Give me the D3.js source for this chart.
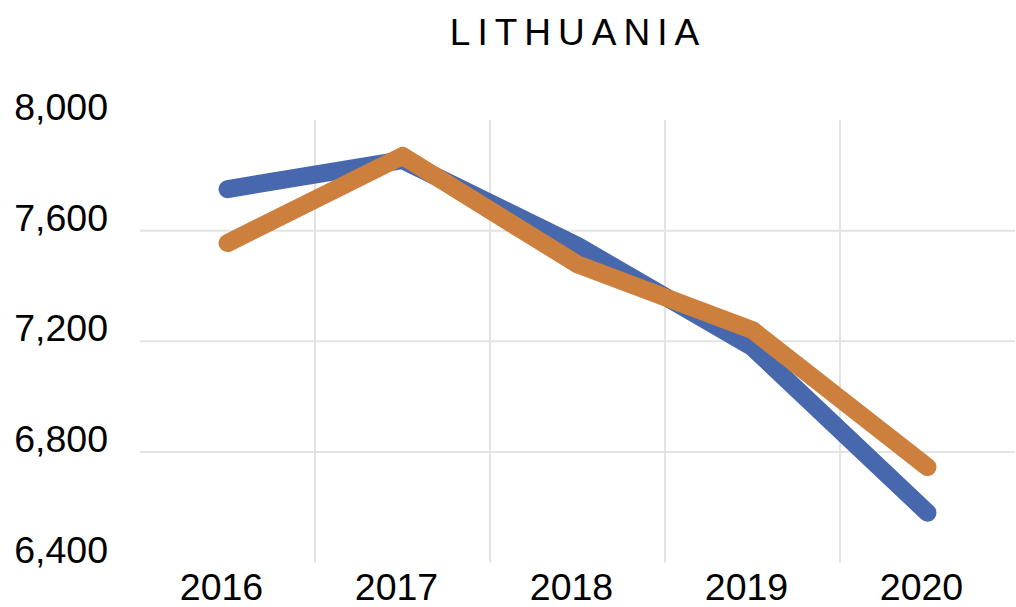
<!DOCTYPE html>
<html>
<head>
<meta charset="utf-8">
<script src="https://cdn.jsdelivr.net/npm/d3@7/dist/d3.min.js"></script>
<style>
  body { margin: 0; background: #fff; }
  text { font-family: "Liberation Sans", Arial, Helvetica, sans-serif; fill: #000; }
</style>
</head>
<body>
<div id="wrapper"></div>
<script>
const years = ["2016", "2017", "2018", "2019", "2020"]
const seriesBlue = [7750, 7855, 7545, 7178, 6580]
const seriesOrange = [7555, 7870, 7478, 7240, 6745]
const yTicks = [6400, 6800, 7200, 7600, 8000]
const title = "LITHUANIA"

const dimensions = {
    width: 1016,
    height: 607,
    margin: { top: 120, right: 1, bottom: 44.5, left: 140 },
}
dimensions.boundedWidth = dimensions.width - dimensions.margin.left - dimensions.margin.right
dimensions.boundedHeight = dimensions.height - dimensions.margin.top - dimensions.margin.bottom

const wrapper = d3.select("#wrapper")
    .append("svg")
    .attr("width", dimensions.width)
    .attr("height", dimensions.height)

const bounds = wrapper.append("g")
    .attr("transform", `translate(${dimensions.margin.left},${dimensions.margin.top})`)

const xScale = d3.scaleBand()
    .domain(years)
    .range([0, dimensions.boundedWidth])

const yScale = d3.scaleLinear()
    .domain([6400, 8000])
    .range([dimensions.boundedHeight, 0])

// horizontal grid (skip top and bottom)
bounds.append("g")
    .selectAll("line")
    .data(yTicks.filter(d => d > 6400 && d < 8000))
    .join("line")
    .attr("x1", 0)
    .attr("x2", dimensions.boundedWidth)
    .attr("y1", d => yScale(d))
    .attr("y2", d => yScale(d))
    .attr("stroke", "#e3e3e3")
    .attr("stroke-width", 2)

// vertical grid between categories
bounds.append("g")
    .selectAll("line")
    .data(years.slice(1))
    .join("line")
    .attr("x1", d => xScale(d))
    .attr("x2", d => xScale(d))
    .attr("y1", 0)
    .attr("y2", dimensions.boundedHeight)
    .attr("stroke", "#e3e3e3")
    .attr("stroke-width", 2)

// y labels, baseline sits on the grid line
bounds.append("g")
    .selectAll("text")
    .data(yTicks)
    .join("text")
    .attr("x", -32)
    .attr("y", d => yScale(d))
    .attr("text-anchor", "end")
    .style("font-size", "37.5px")
    .text(d3.format(","))

// x labels
bounds.append("g")
    .selectAll("text")
    .data(years)
    .join("text")
    .attr("x", d => xScale(d) + xScale.bandwidth() / 2 - 6)
    .attr("y", dimensions.boundedHeight + 37)
    .attr("text-anchor", "middle")
    .style("font-size", "37.5px")
    .text(d => d)

const lineGenerator = d3.line()
    .x((d, i) => xScale(years[i]) + xScale.bandwidth() / 2)
    .y(d => yScale(d))

const series = [
    { values: seriesBlue, color: "#4868ad" },
    { values: seriesOrange, color: "#cd7f3e" },
]

bounds.append("g")
    .selectAll("path")
    .data(series)
    .join("path")
    .attr("d", d => lineGenerator(d.values))
    .attr("fill", "none")
    .attr("stroke", d => d.color)
    .attr("stroke-width", 18)
    .attr("stroke-linecap", "round")
    .attr("stroke-linejoin", "round")

// title, letter-spaced; trailing spacing offsets the centre a bit
wrapper.append("text")
    .attr("x", 578)
    .attr("y", 45)
    .attr("text-anchor", "middle")
    .style("font-size", "37px")
    .style("letter-spacing", "7px")
    .text(title)
</script>
</body>
</html>
